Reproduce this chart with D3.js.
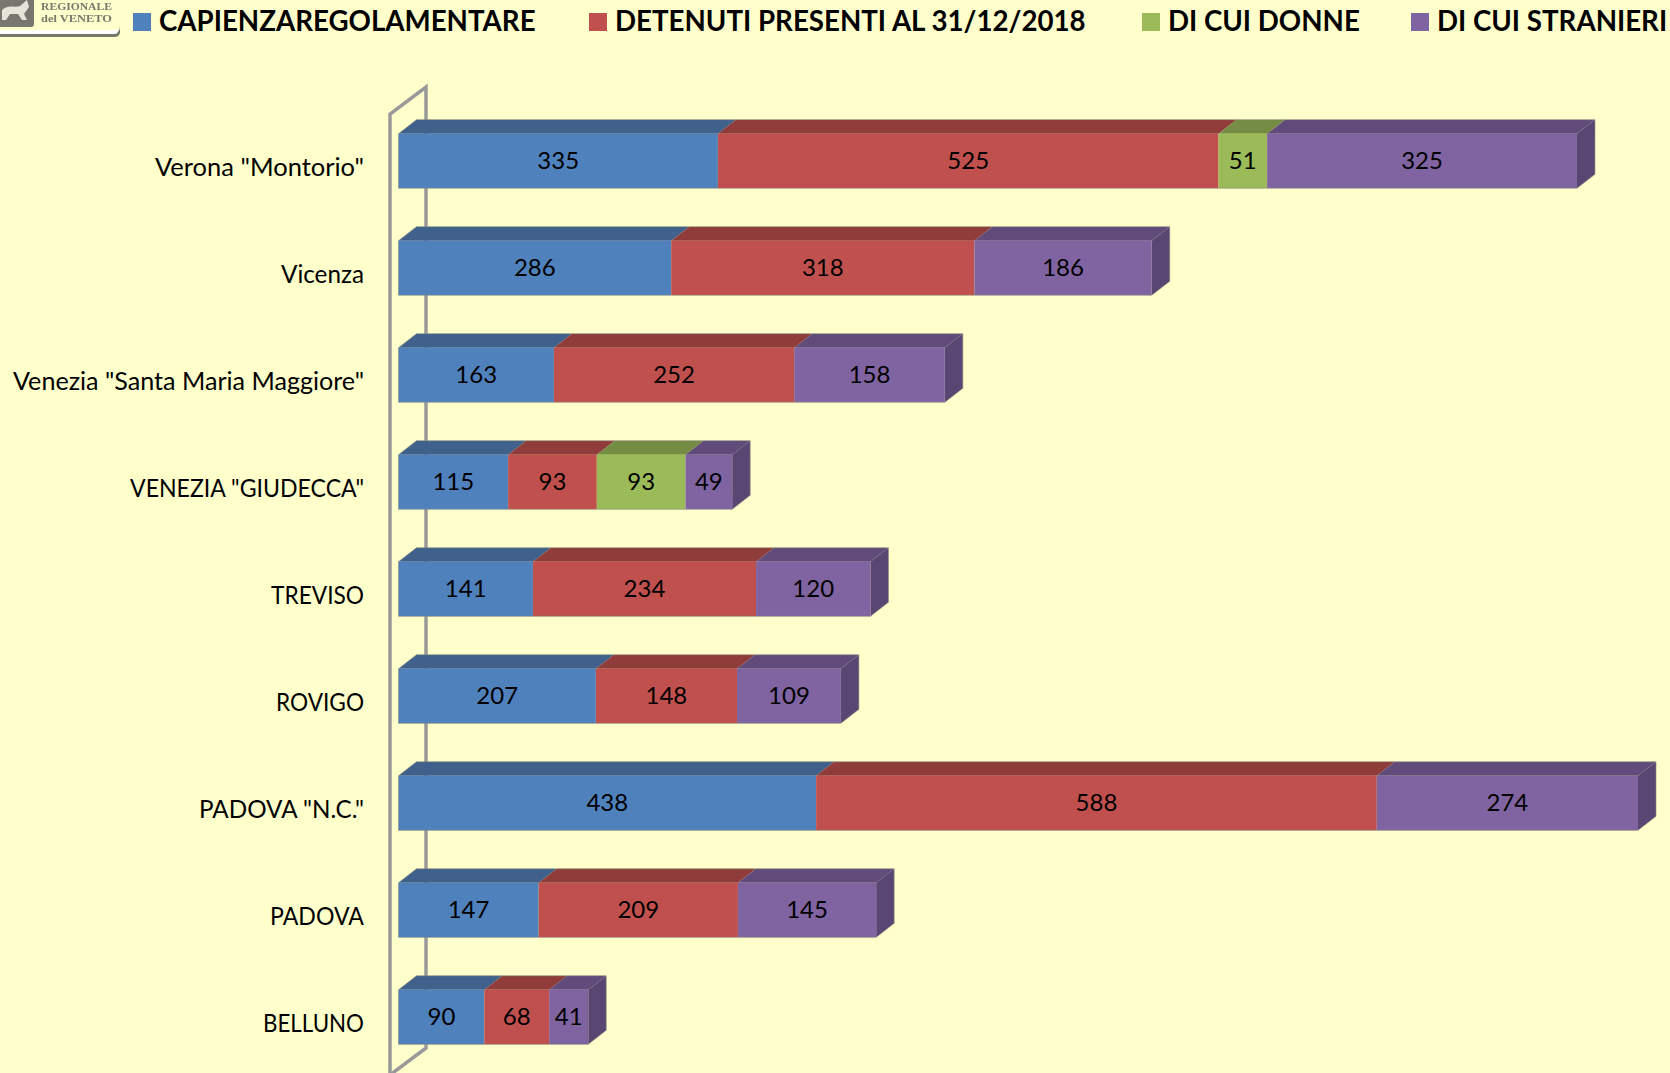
<!DOCTYPE html>
<html>
<head>
<meta charset="utf-8">
<script src="https://cdnjs.cloudflare.com/ajax/libs/d3/7.8.5/d3.min.js"></script>
<style>
html, body { margin: 0; padding: 0; background: #ffffcc; overflow: hidden; }
text { font-family: Lato, "Open Sans", sans-serif; fill: #000; }
</style>
</head>
<body>
<script>
const categories = ['Verona "Montorio"', 'Vicenza', 'Venezia "Santa Maria Maggiore"', 'VENEZIA "GIUDECCA"', 'TREVISO', 'ROVIGO', 'PADOVA "N.C."', 'PADOVA', 'BELLUNO']
const capienza = [335, 286, 163, 115, 141, 207, 438, 147, 90]
const detenuti = [525, 318, 252, 93, 234, 148, 588, 209, 68]
const donne = [51, 0, 0, 93, 0, 0, 0, 0, 0]
const stranieri = [325, 186, 158, 49, 120, 109, 274, 145, 41]
const seriesNames = ['CAPIENZAREGOLAMENTARE', 'DETENUTI PRESENTI AL 31/12/2018', 'DI CUI DONNE', 'DI CUI STRANIERI']
const legendX = [133, 589, 1142, 1411]
// label widths measured on the reference, the installed font runs wider in caps
const labelWidths = [209, 83, 351, 234, 93, 88, 165, 94, 101]
const colors = ['#4f81bd', '#c0504d', '#9bbb59', '#8064a2']
const topColors = ['#3f618c', '#8f3c3a', '#748c43', '#604b7a']
const sideColor = '#5a4672'

const width = 1670, height = 1073
const depthX = 18, depthY = 14

const svg = d3.select('body').append('svg').attr('width', width).attr('height', height).style('display', 'block')

const rows = categories.map((c, i) => ({ name: c, values: [capienza[i], detenuti[i], donne[i], stranieri[i]] }))
const stack = d3.stack().keys([0, 1, 2, 3]).value((d, k) => d.values[k])(rows)

const xscale = d3.scaleLinear().domain([0, 1300]).range([398.5, 1638])
const yscale = d3.scaleBand().domain(categories).range([108.5, 1069.5]).paddingInner(0.49).paddingOuter(0.235)
const bh = yscale.bandwidth()

// wall behind the bars
svg.append('path')
  .attr('d', `M390,1078V114L426,87V1048L390,1075`)
  .attr('fill', 'none').attr('stroke', '#999').attr('stroke-width', 3.5)

// logo corner
svg.append('filter').attr('id', 'soft').append('feGaussianBlur').attr('stdDeviation', 0.6)
const logo = svg.append('g').attr('filter', 'url(#soft)')
logo.append('path').attr('d', 'M0,33H114Q120,33 120,26V32Q120,37 114,37H0Z').attr('fill', '#77776c')
logo.append('path').attr('d', 'M0,30H114Q118,30 118,27V31Q118,34 114,34H0Z').attr('fill', '#fff')
logo.append('rect').attr('x', -6).attr('y', -6).attr('width', 40).attr('height', 33).attr('rx', 3).attr('fill', '#77776f')
logo.append('path').attr('d', 'M2,10C8,4 14,8 20,6L27,0L29,7L24,14L27,20H22L18,14H10L6,20H2Z').attr('fill', '#e4e4d8')
logo.append('text').attr('x', 41).attr('y', 10).style('font-family', '"Liberation Serif"').attr('font-size', 11).attr('font-weight', 700).attr('textLength', 71).attr('lengthAdjust', 'spacingAndGlyphs').style('fill', '#77776c').text('REGIONALE')
logo.append('text').attr('x', 41).attr('y', 22).style('font-family', '"Liberation Serif"').attr('font-size', 11).attr('font-weight', 700).attr('textLength', 71).attr('lengthAdjust', 'spacingAndGlyphs').style('fill', '#77776c').text('del VENETO')

// legend
const legend = svg.append('g').selectAll('g').data(seriesNames).join('g')
legend.append('rect').attr('x', (d, i) => legendX[i]).attr('y', 13).attr('width', 18).attr('height', 18).attr('fill', (d, i) => colors[i])
legend.append('text').attr('x', (d, i) => legendX[i] + 26).attr('y', 31)
  .attr('font-size', 27.7).attr('font-weight', 700)
  .text(d => d)

// category labels
svg.append('g').selectAll('text').data(categories).join('text')
  .attr('x', (d, i) => 364 - labelWidths[i]).attr('y', d => yscale(d) + bh / 2 + 15)
  .attr('font-size', 25)
  .attr('textLength', (d, i) => labelWidths[i]).attr('lengthAdjust', 'spacingAndGlyphs')
  .text(d => d)

const rowGroups = svg.append('g').selectAll('g').data(rows).join('g')

// side face at the end of each bar
rowGroups.append('path')
  .attr('d', (d, i) => {
    const x = xscale(d3.sum(d.values)), y = yscale(d.name)
    return `M${x},${y}l${depthX},${-depthY}v${bh}l${-depthX},${depthY}Z`
  })
  .attr('fill', sideColor)

stack.forEach((s, k) => {
  const segs = s.map(d => ({ x0: d[0], x1: d[1], name: d.data.name, v: d.data.values[k] })).filter(d => d.v > 0)
  const seg = svg.append('g').selectAll('g').data(segs).join('g')
  seg.append('path')
    .attr('d', d => {
      const a = xscale(d.x0), b = xscale(d.x1), y = yscale(d.name)
      return `M${a},${y}l${depthX},${-depthY}H${b + depthX}l${-depthX},${depthY}Z`
    })
    .attr('fill', topColors[k])
  seg.append('rect')
    .attr('x', d => xscale(d.x0)).attr('width', d => xscale(d.x1) - xscale(d.x0))
    .attr('y', d => yscale(d.name)).attr('height', bh)
    .attr('fill', colors[k])
  seg.append('text')
    .attr('x', d => (xscale(d.x0) + xscale(d.x1)) / 2)
    .attr('y', d => yscale(d.name) + bh / 2 + 8)
    .attr('text-anchor', 'middle').attr('font-size', 24).text(d => d.v)
})

// thin grey edge round each box
svg.append('g').selectAll('path').data(rows).join('path')
  .attr('d', d => {
    const a = xscale(0), b = xscale(d3.sum(d.values)), y = yscale(d.name)
    return `M${a},${y}V${y + bh}H${b}l${depthX},${-depthY}V${y - depthY}H${a + depthX}L${a},${y}`
  })
  .attr('fill', 'none').attr('stroke', '#8a8a80').attr('stroke-opacity', 0.6)
</script>
</body>
</html>
